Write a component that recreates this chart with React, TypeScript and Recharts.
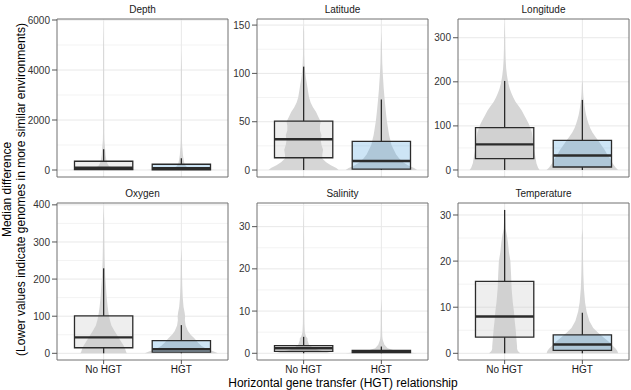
import React from "react";
import {
  ComposedChart,
  Area,
  XAxis,
  YAxis,
  CartesianGrid,
  ReferenceArea,
  ReferenceLine,
} from "recharts";

const groups = ["No HGT", "HGT"];
const variables = ["Depth", "Latitude", "Longitude", "Oxygen", "Salinity", "Temperature"];

// y breaks for each facet
const depthTicks = [0, 2000, 4000, 6000];
const latitudeTicks = [0, 50, 100, 150];
const longitudeTicks = [0, 100, 200, 300];
const oxygenTicks = [0, 100, 200, 300, 400];
const salinityTicks = [0, 10, 20, 30];
const temperatureTicks = [0, 10, 20, 30];

// boxplot stats per group: [lower whisker, Q1, median, Q3, upper whisker]
const depthBoxes = [
  [0, 20, 90, 350, 830],
  [0, 10, 70, 230, 470],
];
const latitudeBoxes = [
  [0, 12.7, 31.8, 50.7, 107],
  [0, 1, 9.3, 29.7, 73],
];
const longitudeBoxes = [
  [0, 25.6, 58, 96, 202],
  [0, 6.8, 33, 67, 159],
];
const oxygenBoxes = [
  [0, 15, 43, 101, 229],
  [0, 3, 11, 34, 76],
];
const salinityBoxes = [
  [0, 0.47, 1.2, 1.8, 3.9],
  [0, 0.15, 0.4, 0.7, 1.6],
];
const temperatureBoxes = [
  [0, 3.5, 8.0, 15.6, 31.1],
  [0, 0.65, 1.9, 4.0, 8.8],
];

// violin profiles: density half widths (in group units) at each level
const depthLevels = [0, 30, 80, 150, 250, 400, 600, 800, 1000, 1200, 1500, 2000, 3000, 4000, 4800, 5800];
const depthNo = [0.45, 0.3, 0.12, 0.07, 0.05, 0.035, 0.025, 0.02, 0.015, 0.01, 0.008, 0.007, 0.006, 0.006, 0.006, 0];
const depthHgt = [0.45, 0.25, 0.1, 0.06, 0.04, 0.03, 0.02, 0.015, 0.01, 0.008, 0.007, 0.006, 0.006, 0.006, 0, 0];

const latitudeLevels = [0, 2, 5, 8, 12, 16, 21, 26, 31, 36, 41, 46, 50, 55, 60, 65, 70, 75, 80, 85, 90, 95, 100, 105, 110, 120, 130, 143, 150];
const latitudeNo = [0.45, 0.42, 0.35, 0.29, 0.24, 0.24, 0.25, 0.23, 0.22, 0.23, 0.21, 0.21, 0.22, 0.19, 0.16, 0.12, 0.09, 0.07, 0.06, 0.05, 0.04, 0.03, 0.022, 0.016, 0.012, 0.008, 0.007, 0.006, 0];
const latitudeHgt = [0.46, 0.42, 0.34, 0.28, 0.23, 0.19, 0.16, 0.13, 0.115, 0.1, 0.09, 0.08, 0.072, 0.065, 0.058, 0.052, 0.046, 0.04, 0.035, 0.03, 0.026, 0.022, 0.018, 0.015, 0.012, 0.009, 0.007, 0, 0];

const longitudeLevels = [0, 5, 15, 25, 35, 45, 55, 65, 75, 85, 95, 105, 115, 125, 135, 145, 155, 165, 175, 185, 195, 204, 215, 230, 250, 275, 300, 336];
const longitudeNo = [0.45, 0.43, 0.41, 0.4, 0.39, 0.38, 0.37, 0.37, 0.36, 0.35, 0.33, 0.31, 0.28, 0.25, 0.22, 0.18, 0.14, 0.11, 0.085, 0.065, 0.05, 0.04, 0.03, 0.02, 0.013, 0.009, 0.007, 0];
const longitudeHgt = [0.46, 0.43, 0.39, 0.36, 0.32, 0.29, 0.25, 0.21, 0.17, 0.13, 0.1, 0.08, 0.062, 0.048, 0.037, 0.028, 0.02, 0.014, 0.01, 0.008, 0.006, 0, 0, 0, 0, 0, 0, 0];

const oxygenLevels = [0, 3, 6, 10, 15, 20, 30, 40, 50, 60, 75, 90, 100, 110, 125, 150, 180, 210, 250, 283, 320, 360, 395];
const oxygenNo = [0.3, 0.29, 0.285, 0.28, 0.27, 0.26, 0.23, 0.2, 0.17, 0.14, 0.1, 0.08, 0.07, 0.062, 0.052, 0.04, 0.03, 0.02, 0.013, 0.01, 0.008, 0.007, 0];
const oxygenHgt = [0.47, 0.44, 0.4, 0.35, 0.3, 0.26, 0.21, 0.17, 0.12, 0.085, 0.055, 0.045, 0.048, 0.042, 0.028, 0.018, 0.012, 0.009, 0.007, 0, 0, 0, 0];

const salinityLevels = [0, 0.3, 0.7, 1.2, 2, 3, 3.5, 4, 5, 7, 10, 13, 20, 27, 34];
const salinityNo = [0.35, 0.3, 0.2, 0.13, 0.07, 0.05, 0.05, 0.03, 0.015, 0.01, 0.008, 0.007, 0.007, 0.006, 0];
const salinityHgt = [0.46, 0.3, 0.16, 0.08, 0.04, 0.02, 0.015, 0.012, 0.01, 0.008, 0.007, 0, 0, 0, 0];

const temperatureLevels = [0, 0.5, 1, 1.5, 2.5, 3.5, 4.5, 5.5, 7, 9, 11, 14, 17, 20, 22, 24, 25.5, 27, 29, 31];
const temperatureNo = [0.2, 0.17, 0.16, 0.16, 0.155, 0.15, 0.145, 0.14, 0.13, 0.12, 0.105, 0.09, 0.083, 0.074, 0.055, 0.043, 0.03, 0.012, 0.007, 0];
const temperatureHgt = [0.46, 0.45, 0.43, 0.4, 0.34, 0.27, 0.2, 0.14, 0.09, 0.055, 0.035, 0.02, 0.013, 0.009, 0.008, 0.007, 0.007, 0, 0, 0];

const facets = [
  { name: variables[0], ticks: depthTicks, domain: [-280, 6040], boxes: depthBoxes, levels: depthLevels, no: depthNo, hgt: depthHgt },
  { name: variables[1], ticks: latitudeTicks, domain: [-7.2, 156.3], boxes: latitudeBoxes, levels: latitudeLevels, no: latitudeNo, hgt: latitudeHgt },
  { name: variables[2], ticks: longitudeTicks, domain: [-15.9, 342.5], boxes: longitudeBoxes, levels: longitudeLevels, no: longitudeNo, hgt: longitudeHgt },
  { name: variables[3], ticks: oxygenTicks, domain: [-18, 405], boxes: oxygenBoxes, levels: oxygenLevels, no: oxygenNo, hgt: oxygenHgt },
  { name: variables[4], ticks: salinityTicks, domain: [-1.59, 35.6], boxes: salinityBoxes, levels: salinityLevels, no: salinityNo, hgt: salinityHgt },
  { name: variables[5], ticks: temperatureTicks, domain: [-1.45, 32.6], boxes: temperatureBoxes, levels: temperatureLevels, no: temperatureNo, hgt: temperatureHgt },
];

const FONT = "'Liberation Sans', Arial, Helvetica, sans-serif";
const COL_X = [57, 257, 458];
const ROW_Y = [19, 203];
const PANEL_W = 171;
const PANEL_H = [158, 157];
const AXIS_W = 40;
const PAD = 7;
const X_AXIS_H = 22;

const VIOLIN = "#d6d6d6";
const INK = "#2b2b2b";
const BOX_FILL = ["#c8c8c8", "#4aa3df"];
const BOX_OPACITY = [0.3, 0.28];
const BOX_HALF = 0.375;

// ggplot-style minor breaks: midpoints between majors, kept inside the limits
function minorBreaks(ticks: number[], domain: number[]) {
  const step = ticks[1] - ticks[0];
  const out: number[] = [];
  for (let v = ticks[0] - step / 2; v <= ticks[ticks.length - 1] + step; v += step) {
    if (v > domain[0] && v < domain[1]) out.push(v);
  }
  return out;
}

type Row = { y: number; no: number; hgt: number };

function Facet({ facet, index }: { facet: (typeof facets)[number]; index: number }) {
  const col = index % 3;
  const row = Math.floor(index / 3);
  const bottomRow = row === 1;
  const [lo, hi] = facet.domain;
  const minor = minorBreaks(facet.ticks, facet.domain);
  const height = PAD + PANEL_H[row] + (bottomRow ? X_AXIS_H : PAD);
  const rows: Row[] = facet.levels.map((y, i) => ({ y, no: facet.no[i], hgt: facet.hgt[i] }));

  return (
    <>
      <div
        style={{
          position: "absolute",
          left: COL_X[col],
          top: ROW_Y[row] - 15,
          width: PANEL_W,
          textAlign: "center",
          fontSize: 10,
          lineHeight: "12px",
          color: "#1a1a1a",
        }}
      >
        {facet.name}
      </div>
      <div style={{ position: "absolute", left: COL_X[col] - AXIS_W, top: ROW_Y[row] - PAD }}>
        {/* vertical layout so the violins run along the value axis */}
        <ComposedChart
          layout="vertical"
          width={AXIS_W + PANEL_W + PAD}
          height={height}
          data={rows}
          margin={{ top: PAD, right: PAD, bottom: bottomRow ? 0 : PAD, left: 0 }}
        >
          <CartesianGrid horizontalValues={minor} vertical={false} stroke="#f3f3f3" />
          <CartesianGrid horizontalValues={facet.ticks} verticalValues={[1, 2]} stroke="#e8e8e8" />
          <XAxis
            type="number"
            domain={[0.4, 2.6]}
            ticks={[1, 2]}
            allowDataOverflow
            hide={!bottomRow}
            height={X_AXIS_H}
            interval={0}
            axisLine={false}
            tickSize={4}
            tickMargin={2}
            tickLine={{ stroke: "#555" }}
            tick={{ fontSize: 10, fill: "#1a1a1a" }}
            tickFormatter={(v: number) => groups[v - 1]}
          />
          <YAxis
            type="number"
            dataKey="y"
            domain={facet.domain}
            ticks={facet.ticks}
            allowDataOverflow
            reversed
            width={AXIS_W}
            interval={0}
            axisLine={false}
            tickSize={5}
            tickMargin={2}
            tickLine={{ stroke: "#555" }}
            tick={{ fontSize: 10, fill: "#333" }}
          />
          <Area
            type="linear"
            dataKey={(d: Row) => [1 - d.no, 1 + d.no]}
            fill={VIOLIN}
            fillOpacity={1}
            stroke="none"
            dot={false}
            activeDot={false}
            isAnimationActive={false}
            zIndex={50}
          />
          <Area
            type="linear"
            dataKey={(d: Row) => [2 - d.hgt, 2 + d.hgt]}
            fill={VIOLIN}
            fillOpacity={1}
            stroke="none"
            dot={false}
            activeDot={false}
            isAnimationActive={false}
            zIndex={50}
          />
          {facet.boxes.map(([, q1, , q3], g) => (
            <ReferenceArea
              key={`b${g}`}
              x1={g + 1 - BOX_HALF}
              x2={g + 1 + BOX_HALF}
              y1={q1}
              y2={q3}
              fill={BOX_FILL[g]}
              fillOpacity={BOX_OPACITY[g]}
              stroke={INK}
              strokeWidth={1.3}
              ifOverflow="visible"
              zIndex={150}
            />
          ))}
          <ReferenceArea
            x1={0.4}
            x2={2.6}
            y1={lo}
            y2={hi}
            fill="none"
            stroke="#707070"
            strokeWidth={1}
            ifOverflow="visible"
            zIndex={150}
          />
          {facet.boxes.map(([lw, q1, med, q3, uw], g) => {
            const c = g + 1;
            return [
              <ReferenceLine key={`u${g}`} segment={[{ x: c, y: q3 }, { x: c, y: uw }]} stroke={INK} strokeWidth={1.3} ifOverflow="visible" zIndex={400} />,
              <ReferenceLine key={`l${g}`} segment={[{ x: c, y: lw }, { x: c, y: q1 }]} stroke={INK} strokeWidth={1.3} ifOverflow="visible" zIndex={400} />,
              <ReferenceLine
                key={`m${g}`}
                segment={[{ x: c - BOX_HALF, y: med }, { x: c + BOX_HALF, y: med }]}
                stroke={INK}
                strokeWidth={2.4}
                ifOverflow="visible"
                zIndex={400}
              />,
            ];
          })}
        </ComposedChart>
      </div>
    </>
  );
}

export default function App() {
  return (
    <div
      style={{
        position: "absolute",
        left: 0,
        top: 0,
        width: 631,
        height: 390,
        background: "#fff",
        fontFamily: FONT,
        overflow: "hidden",
      }}
    >
      {facets.map((f, i) => (
        <Facet key={f.name} facet={f} index={i} />
      ))}
      <svg width={40} height={390} style={{ position: "absolute", left: 0, top: 0 }}>
        <g fontSize={12} fill="#000" textAnchor="middle" dominantBaseline="central">
          <text transform="translate(7,189.5) rotate(-90)">Median difference</text>
          <text transform="translate(21,189.5) rotate(-90)">
            (Lower values indicate genomes in more similar environments)
          </text>
        </g>
      </svg>
      <div
        style={{
          position: "absolute",
          left: 57,
          top: 376,
          width: 572,
          textAlign: "center",
          fontSize: 12,
          lineHeight: "14px",
          color: "#000",
        }}
      >
        Horizontal gene transfer (HGT) relationship
      </div>
    </div>
  );
}
